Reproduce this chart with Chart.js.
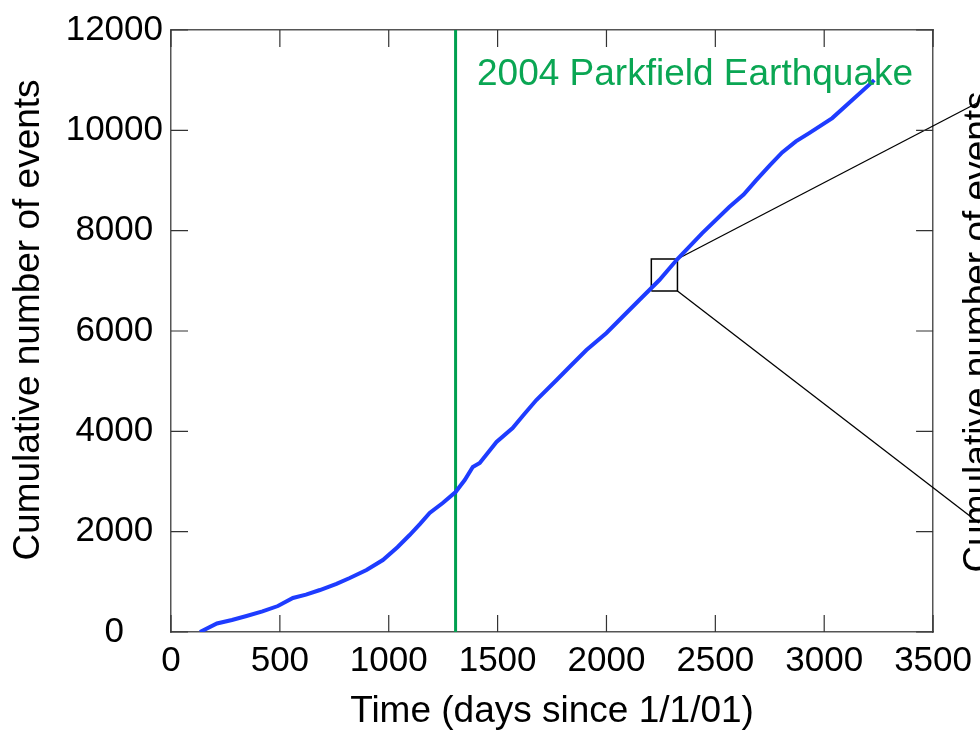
<!DOCTYPE html>
<html>
<head>
<meta charset="utf-8">
<script src="https://cdn.jsdelivr.net/npm/chart.js@4.4.1/dist/chart.umd.min.js"></script>
<style>
  html, body { margin: 0; padding: 0; background: #fff; }
  canvas { display: block; }
</style>
</head>
<body>
<canvas id="quakeChart" width="980" height="732"></canvas>
<script>
// cumulative event count
const days   = [133, 211, 280, 347, 420, 491, 560, 620, 684, 760, 821, 898, 973, 1040, 1096, 1145, 1188, 1248, 1307, 1349, 1386, 1418, 1460, 1495, 1569, 1620, 1678, 1771, 1830, 1908, 2000, 2073, 2151, 2243, 2326, 2440, 2564, 2630, 2688, 2750, 2807, 2870, 2931, 3037, 3129, 3230];
const events = [0, 170, 240, 319, 410, 518, 678, 745, 837, 960, 1076, 1236, 1435, 1690, 1933, 2160, 2372, 2571, 2790, 3029, 3290, 3369, 3600, 3787, 4066, 4330, 4624, 5023, 5282, 5621, 5960, 6279, 6618, 7016, 7434, 7952, 8470, 8720, 9008, 9300, 9560, 9780, 9945, 10244, 10603, 11001];

const quakeDay = 1307;               // green line, 2004 Parkfield Earthquake
const zoomBoxX = [2206, 2326];       // small box that is zoomed on the right
const zoomBoxY = [6798, 7436];
const connectorEndX = 3711;          // lines run off to the right panel
const connectorEndY = [10565, 2173];

const xTicks = [0, 500, 1000, 1500, 2000, 2500, 3000, 3500];
const yTicks = [0, 2000, 4000, 6000, 8000, 10000, 12000];

const FONT = "'Liberation Sans', Arial, Helvetica, sans-serif";
Chart.defaults.font.family = FONT;
Chart.defaults.color = '#000';

const curve = days.map((d, i) => ({x: d, y: events[i]}));
const box = [
    {x: zoomBoxX[0], y: zoomBoxY[0]}, {x: zoomBoxX[1], y: zoomBoxY[0]},
    {x: zoomBoxX[1], y: zoomBoxY[1]}, {x: zoomBoxX[0], y: zoomBoxY[1]},
    {x: zoomBoxX[0], y: zoomBoxY[0]}
];

// inward tick marks on all four sides
const innerTicks = {
    id: 'innerTicks',
    afterDatasetsDraw(chart) {
        const {ctx, chartArea: a, scales} = chart;
        const len = 17;
        ctx.save();
        ctx.strokeStyle = '#333';
        ctx.lineWidth = 1.2;
        ctx.beginPath();
        xTicks.forEach(v => {
            const px = scales.x.getPixelForValue(v);
            ctx.moveTo(px, a.bottom); ctx.lineTo(px, a.bottom - len);
            ctx.moveTo(px, a.top);    ctx.lineTo(px, a.top + len);
        });
        yTicks.forEach(v => {
            const py = scales.y.getPixelForValue(v);
            ctx.moveTo(a.left, py);  ctx.lineTo(a.left + len, py);
            ctx.moveTo(a.right, py); ctx.lineTo(a.right - len, py);
        });
        ctx.stroke();
        ctx.restore();
    }
};

// axis title on the left, annotation text and the cut-off label of the right panel
const extraText = {
    id: 'extraText',
    afterDraw(chart) {
        const {ctx} = chart;
        ctx.save();
        ctx.fillStyle = '#0aa653';
        ctx.font = '37px ' + FONT;
        ctx.textBaseline = 'alphabetic';
        ctx.textAlign = 'left';
        ctx.fillText('2004 Parkfield Earthquake', 477, 85);
        ctx.restore();

        ctx.save();
        ctx.fillStyle = '#000';
        ctx.font = '37px ' + FONT;
        ctx.translate(29, 320);
        ctx.rotate(-Math.PI / 2);
        ctx.textAlign = 'center';
        ctx.textBaseline = 'middle';
        ctx.fillText('Cumulative number of events', 0, 0);
        ctx.restore();

        ctx.save();
        ctx.fillStyle = '#000';
        ctx.font = '37px ' + FONT;
        ctx.translate(989, 332);
        ctx.rotate(-Math.PI / 2);
        ctx.textAlign = 'center';
        ctx.textBaseline = 'alphabetic';
        ctx.fillText('Cumulative number of events', 0, 0);
        ctx.restore();
    }
};

const hiddenAxis = (pos, size) => ({
    type: 'linear',
    position: pos,
    ticks: {display: false},
    grid: {drawOnChartArea: false, drawTicks: false},
    border: {display: true, color: '#555', width: 1.5},
    afterFit: s => { if (pos === 'top') s.height = size; else s.width = size; }
});

new Chart(document.getElementById('quakeChart'), {
    type: 'line',
    data: {
        datasets: [{
            data: curve,
            borderColor: '#1e3cff',
            borderWidth: 4,
            pointRadius: 0,
            tension: 0
        }, {
            data: [{x: quakeDay, y: 0}, {x: quakeDay, y: 12000}],
            borderColor: '#00a050',
            borderWidth: 3,
            pointRadius: 0
        }, {
            data: box,
            borderColor: '#000',
            borderWidth: 1.5,
            pointRadius: 0
        }, {
            data: [{x: zoomBoxX[1], y: zoomBoxY[1]}, {x: connectorEndX, y: connectorEndY[0]}],
            borderColor: '#000',
            borderWidth: 1.3,
            pointRadius: 0,
            clip: false
        }, {
            data: [{x: zoomBoxX[1], y: zoomBoxY[0]}, {x: connectorEndX, y: connectorEndY[1]}],
            borderColor: '#000',
            borderWidth: 1.3,
            pointRadius: 0,
            clip: false
        }]
    },
    options: {
        responsive: false,
        devicePixelRatio: 1,
        animation: false,
        layout: {padding: 0},
        plugins: {
            legend: {display: false},
            tooltip: {enabled: false}
        },
        scales: {
            x: {
                type: 'linear',
                position: 'bottom',
                min: 0,
                max: 3500,
                afterBuildTicks: s => { s.ticks = xTicks.map(v => ({value: v})); },
                ticks: {font: {size: 35}, padding: 8, maxRotation: 0, autoSkip: false, callback: v => String(v)},
                grid: {drawOnChartArea: false, drawTicks: false},
                border: {display: true, color: '#555', width: 1.5},
                title: {
                    display: true,
                    text: 'Time (days since 1/1/01)',
                    font: {size: 37, lineHeight: 1.1},
                    padding: {top: 0, bottom: 0}
                },
                afterFit: s => { s.height = 100; }
            },
            xTop: Object.assign(hiddenAxis('top', 30), {min: 0, max: 3500}),
            y: {
                type: 'linear',
                position: 'left',
                min: 0,
                max: 12000,
                afterBuildTicks: s => { s.ticks = yTicks.map(v => ({value: v})); },
                ticks: {font: {size: 35}, padding: 8, crossAlign: 'center', callback: v => String(v)},
                grid: {drawOnChartArea: false, drawTicks: false},
                border: {display: true, color: '#555', width: 1.5},
                afterFit: s => { s.width = 171; }
            },
            yRight: Object.assign(hiddenAxis('right', 46), {min: 0, max: 12000})
        }
    },
    plugins: [innerTicks, extraText]
});
</script>
</body>
</html>
